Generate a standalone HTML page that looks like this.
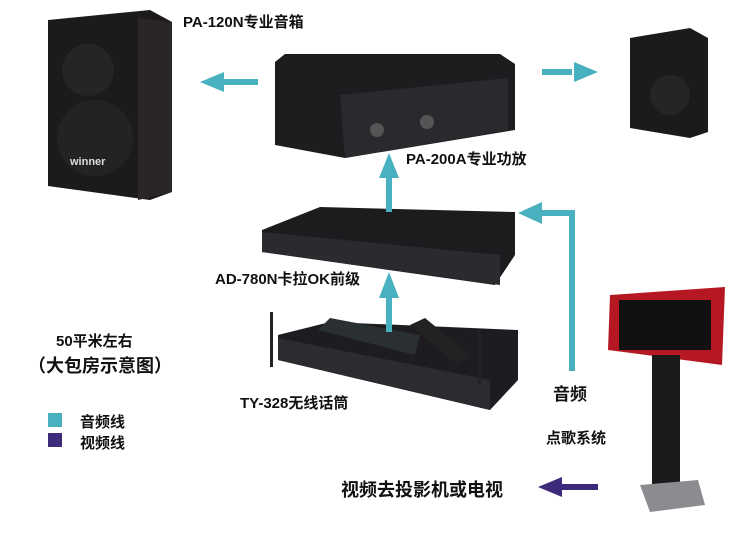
<!DOCTYPE html>
<html><head><meta charset="utf-8"><style>
body{margin:0;width:736px;height:552px;background:#fff;overflow:hidden;position:relative;font-family:"Liberation Sans","Noto Sans CJK SC",sans-serif;font-weight:bold;color:#111}
.t{position:absolute;white-space:nowrap}
</style></head><body>
<svg width="736" height="552" style="position:absolute;left:0;top:0">
<polygon points="48,20 150,10 172,22 172,192 150,200 48,186" fill="#1c1a1c"/>
<polygon points="138,18 172,22 172,192 138,200" fill="#2a2628"/>
<circle cx="88" cy="70" r="26" fill="#262426"/>
<circle cx="95" cy="138" r="38" fill="#242224"/>
<text x="70" y="165" fill="#ddd" font-size="11" font-family="Liberation Sans" font-weight="bold">winner</text>
<polygon points="630,38 690,28 708,38 708,132 690,138 630,128" fill="#1c1a1c"/>
<circle cx="670" cy="95" r="20" fill="#262426"/>
<polygon points="275,62 285,54 500,54 515,64 515,130 345,158 275,145" fill="#1d1c1f"/>
<polygon points="340,95 508,78 508,130 345,158" fill="#2a292d"/>
<circle cx="377" cy="130" r="7" fill="#555"/><circle cx="427" cy="122" r="7" fill="#555"/>
<polygon points="262,230 320,207 515,212 515,255 495,285 262,252" fill="#1c1b1e"/>
<polygon points="262,232 500,255 500,285 262,252" fill="#2b2a2e"/>
<polygon points="278,335 330,322 518,330 518,380 490,410 278,360" fill="#1d1c20"/>
<polygon points="278,338 490,380 490,410 278,360" fill="#2c2c30"/>
<rect x="270" y="312" width="3" height="55" fill="#222"/><rect x="478" y="330" width="3" height="55" fill="#222"/>
<polygon points="318,330 330,318 420,335 415,355" fill="#2a3032"/>
<polygon points="410,325 425,318 470,355 458,365" fill="#222"/>
<polygon points="610,295 725,287 722,365 608,350" fill="#b51822"/>
<rect x="619" y="300" width="92" height="50" fill="#111"/>
<rect x="652" y="355" width="28" height="130" fill="#1a1a1a"/>
<polygon points="640,485 698,480 705,505 650,512" fill="#8c8c90"/>
<g fill="#49b0c0" stroke="none">
<rect x="222" y="79" width="36" height="6"/><polygon points="200,82 224,72 224,92"/>
<rect x="542" y="69" width="30" height="6"/><polygon points="598,72 574,62 574,82"/>
<rect x="386" y="176" width="6" height="36"/><polygon points="389,153 379,178 399,178"/>
<rect x="386" y="296" width="6" height="36"/><polygon points="389,272 379,298 399,298"/>
<rect x="569" y="213" width="6" height="158"/><rect x="540" y="210" width="35" height="6"/><polygon points="518,213 542,202 542,224"/>
<rect x="48" y="413" width="14" height="14"/>
</g>
<rect x="48" y="433" width="14" height="14" fill="#3d2a7a"/>
<rect x="560" y="484" width="38" height="6" fill="#3d2a7a"/><polygon points="538,487 562,477 562,497" fill="#3d2a7a"/>
</svg>
<div class="t" style="left:183px;top:11px;font-size:15px">PA-120N专业音箱</div>
<div class="t" style="left:406px;top:148px;font-size:15px">PA-200A专业功放</div>
<div class="t" style="left:215px;top:268px;font-size:15px">AD-780N卡拉OK前级</div>
<div class="t" style="left:56px;top:330px;font-size:15px">50平米左右</div>
<div class="t" style="left:28px;top:352px;font-size:18px">（大包房示意图）</div>
<div class="t" style="left:240px;top:392px;font-size:15px">TY-328无线话筒</div>
<div class="t" style="left:553px;top:380px;font-size:17px">音频</div>
<div class="t" style="left:546px;top:427px;font-size:15px">点歌系统</div>
<div class="t" style="left:80px;top:411px;font-size:15px">音频线</div>
<div class="t" style="left:80px;top:432px;font-size:15px">视频线</div>
<div class="t" style="left:341px;top:476px;font-size:18px">视频去投影机或电视</div>
</body></html>
